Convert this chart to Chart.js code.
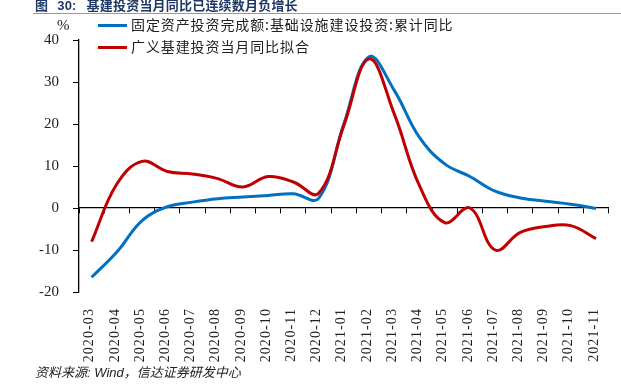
<!DOCTYPE html>
<html>
<head>
<meta charset="utf-8">
<script src="https://cdn.jsdelivr.net/npm/chart.js@4/dist/chart.umd.min.js"></script>
<style>
  html, body { margin: 0; padding: 0; background: #fff; }
  #wrap { position: relative; width: 621px; height: 384px; overflow: hidden; }
  #c { position: absolute; left: 0; top: 0; }
  .ov { position: absolute; white-space: nowrap; }
  #title { left: 35px; top: -5px; font: bold 13px "Noto Sans CJK SC", sans-serif; color: #1F3864; letter-spacing: 0.2px; }
  #title .num { font-family: "Liberation Sans", sans-serif; margin-left: 9px; }
  #title .txt { margin-left: 10px; }
  #rule { left: 33px; top: 13px; width: 588px; height: 1px; background: #999; }
  .leg { left: 98px; font: 14px "Noto Sans CJK SC", sans-serif; color: #222; letter-spacing: 0.9px; }
  .leg span.sw { display: inline-block; width: 29px; height: 3px; vertical-align: middle; margin-right: 4px; position: relative; top: -1px; }
  #pct { left: 57px; top: 17px; font: 15px "Liberation Serif", serif; color: #222; }
  #foot { left: 35px; top: 362px; font: italic 13px "Liberation Sans", "Noto Sans CJK SC", sans-serif; color: #222; }
</style>
</head>
<body>
<div id="wrap">
  <canvas id="c" width="621" height="384"></canvas>
  <div class="ov" id="title">图<span class="num">30:</span><span class="txt">基建投资当月同比已连续数月负增长</span></div>
  <div class="ov" id="rule"></div>
  <div class="ov leg" style="top:14px"><span class="sw" style="background:#0070C0"></span>固定资产投资完成额:基础设施建设投资:累计同比</div>
  <div class="ov leg" style="top:36px"><span class="sw" style="background:#C00000"></span>广义基建投资当月同比拟合</div>
  <div class="ov" id="pct">%</div>
  <div class="ov" id="foot">资料来源: Wind，信达证券研发中心</div>
</div>
<script>
const categories = ["2020-03","2020-04","2020-05","2020-06","2020-07","2020-08","2020-09","2020-10","2020-11","2020-12",
  "2021-01","2021-02","2021-03","2021-04","2021-05","2021-06","2021-07","2021-08","2021-09","2021-10","2021-11"];
const seriesNames = ["固定资产投资完成额:基础设施建设投资:累计同比", "广义基建投资当月同比拟合"];
const infraCumulativeYoY = [-16.5, -10.5, -3.0, 0.3, 1.4, 2.2, 2.6, 3.0, 3.4, 2.3,
  20.0, 36.0, 28.0, 16.8, 10.5, 7.5, 4.0, 2.4, 1.6, 0.9, -0.1];
const broadInfraMonthlyYoY = [-8.0, 5.7, 11.1, 8.7, 8.1, 7.0, 5.0, 7.5, 6.2, 3.5,
  19.6, 35.5, 22.4, 5.3, -3.5, 0.0, -10.0, -5.8, -4.4, -4.2, -7.3];
const yTicks = { min: -20, max: 40, step: 10 };

const chart = new Chart(document.getElementById('c'), {
  type: 'line',
  data: {
    labels: categories,
    datasets: [
      { label: seriesNames[0], data: infraCumulativeYoY, borderColor: '#0070C0', borderWidth: 3,
        pointRadius: 0, tension: 0.4, fill: false, order: 1 },
      { label: seriesNames[1], data: broadInfraMonthlyYoY, borderColor: '#C00000', borderWidth: 3,
        pointRadius: 0, tension: 0.4, fill: false, order: 0 }
    ]
  },
  options: {
    responsive: false,
    animation: false,
    events: [],
    layout: { padding: { left: 0, right: 8, top: 40, bottom: 0 } },
    plugins: { legend: { display: false }, tooltip: { enabled: false }, title: { display: false } },
    scales: {
      x: {
        type: 'category',
        offset: true,
        grid: { display: false },
        border: { display: false },
        ticks: { maxRotation: 90, minRotation: 90, autoSkip: false, padding: 8, labelOffset: -2,
          font: { family: 'Liberation Serif', size: 14 }, color: '#222' },
        afterFit: s => { s.height = 92; }
      },
      x2: {
        type: 'category',
        position: { y: 0 },
        offset: true,
        grid: { display: true, drawOnChartArea: false, drawTicks: true, tickLength: 5, color: '#000', lineWidth: 1, offset: true },
        border: { display: true, color: '#000', width: 1.3 },
        ticks: { display: false }
      },
      y: {
        min: yTicks.min, max: yTicks.max,
        grid: { display: true, drawOnChartArea: false, drawTicks: true, tickLength: 6, color: '#000' },
        border: { display: true, color: '#000', width: 1.3 },
        ticks: { stepSize: yTicks.step, padding: 14, font: { family: 'Liberation Serif', size: 15 }, color: '#222' },
        afterFit: s => { s.width = 79; }
      }
    }
  }
});

// widen the rotated month labels a little, as in the reference
const xs = chart.scales.x;
const origDrawLabels = xs.drawLabels.bind(xs);
xs.drawLabels = function (ca) {
  const ctx = this.ctx;
  ctx.save();
  ctx.letterSpacing = '1.1px';
  origDrawLabels(ca);
  ctx.restore();
};
chart.draw();
</script>
</body>
</html>
